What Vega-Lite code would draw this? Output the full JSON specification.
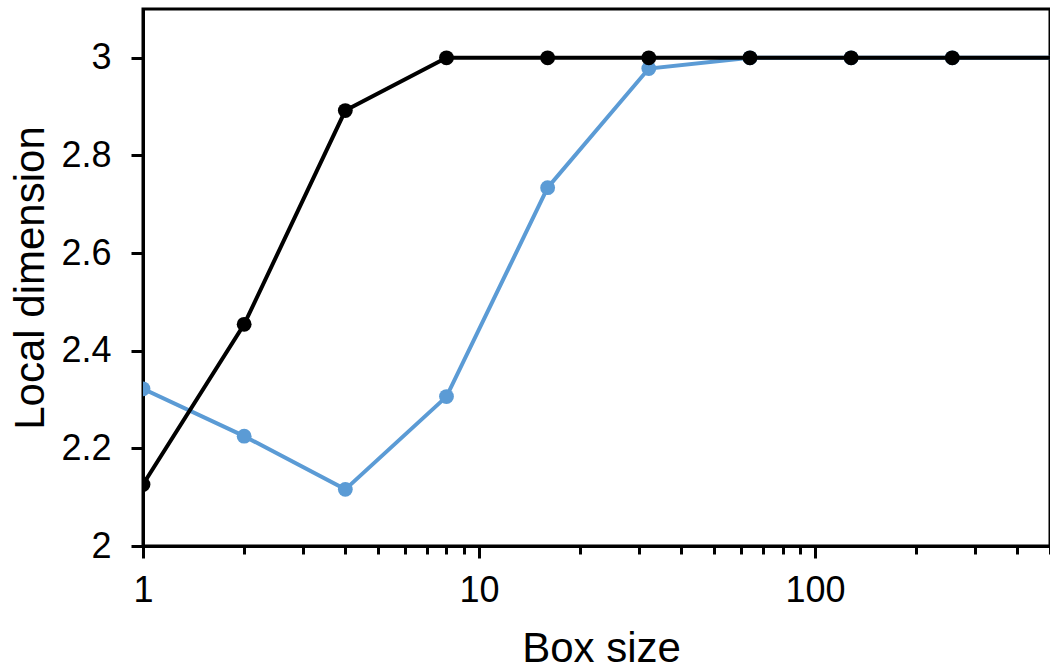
{
  "$schema": "https://vega.github.io/schema/vega-lite/v6.json",
  "width": 907,
  "height": 537,
  "autosize": "none",
  "padding": {"left": 143, "top": 9, "right": 0, "bottom": 124},
  "background": "white",
  "config": {
    "view": {"stroke": "black", "strokeWidth": 3},
    "font": "Liberation Sans"
  },
  "data": {
    "values": [
      {"box": 1, "dim": 2.322, "series": "B"},
      {"box": 2, "dim": 2.225, "series": "B"},
      {"box": 4, "dim": 2.116, "series": "B"},
      {"box": 8, "dim": 2.306, "series": "B"},
      {"box": 16, "dim": 2.734, "series": "B"},
      {"box": 32, "dim": 2.978, "series": "B"},
      {"box": 64, "dim": 3.0, "series": "B"},
      {"box": 128, "dim": 3.0, "series": "B"},
      {"box": 256, "dim": 3.0, "series": "B"},
      {"box": 512, "dim": 3.0, "series": "B"},
      {"box": 1, "dim": 2.126, "series": "A"},
      {"box": 2, "dim": 2.454, "series": "A"},
      {"box": 4, "dim": 2.892, "series": "A"},
      {"box": 8, "dim": 3.0, "series": "A"},
      {"box": 16, "dim": 3.0, "series": "A"},
      {"box": 32, "dim": 3.0, "series": "A"},
      {"box": 64, "dim": 3.0, "series": "A"},
      {"box": 128, "dim": 3.0, "series": "A"},
      {"box": 256, "dim": 3.0, "series": "A"},
      {"box": 512, "dim": 3.0, "series": "A"}
    ]
  },
  "encoding": {
    "x": {
      "field": "box",
      "type": "quantitative",
      "scale": {"type": "log", "domain": [1, 500]},
      "axis": {
        "title": "Box size",
        "titleFontSize": 42,
        "titleFontWeight": "normal",
        "titleColor": "black",
        "titleBaseline": "alphabetic",
        "titleY": 115,
        "titleX": 458,
        "values": [1, 2, 3, 4, 5, 6, 7, 8, 9, 10, 20, 30, 40, 50, 60, 70, 80, 90, 100, 200, 300, 400, 500],
        "labelExpr": "indexof([1,10,100], datum.value) >= 0 ? format(datum.value, 'd') : ''",
        "labelFontSize": 36,
        "labelColor": "black",
        "labelPadding": 15,
        "labelFlush": false,
        "labelOverlap": false,
        "tickSize": {"condition": {"test": "indexof([1,10,100], datum.value) >= 0", "value": 12}, "value": 8},
        "tickWidth": 3,
        "tickColor": "black",
        "domainWidth": 3,
        "domainColor": "black",
        "grid": false
      }
    },
    "y": {
      "field": "dim",
      "type": "quantitative",
      "scale": {"domain": [2, 3.1], "nice": false, "zero": false},
      "axis": {
        "title": "Local dimension",
        "titleFontSize": 42,
        "titleFontWeight": "normal",
        "titleColor": "black",
        "titleBaseline": "alphabetic",
        "titleX": -100,
        "values": [2, 2.2, 2.4, 2.6, 2.8, 3],
        "format": ".1~f",
        "labelFontSize": 36,
        "labelColor": "black",
        "labelPadding": 20,
        "labelFlush": false,
        "tickSize": 12,
        "tickWidth": 3,
        "tickColor": "black",
        "domainWidth": 3,
        "domainColor": "black",
        "grid": false
      }
    }
  },
  "layer": [
    {
      "transform": [{"filter": "datum.series === 'B'"}],
      "mark": {"type": "line", "color": "#5B9BD5", "strokeWidth": 4, "clip": true}
    },
    {
      "transform": [{"filter": "datum.series === 'B' && datum.box <= 500"}],
      "mark": {"type": "circle", "color": "#5B9BD5", "opacity": 1, "size": 220, "clip": true}
    },
    {
      "transform": [{"filter": "datum.series === 'A'"}],
      "mark": {"type": "line", "color": "black", "strokeWidth": 4, "clip": true}
    },
    {
      "transform": [{"filter": "datum.series === 'A' && datum.box <= 500"}],
      "mark": {"type": "circle", "color": "black", "opacity": 1, "size": 220, "clip": true}
    }
  ]
}
